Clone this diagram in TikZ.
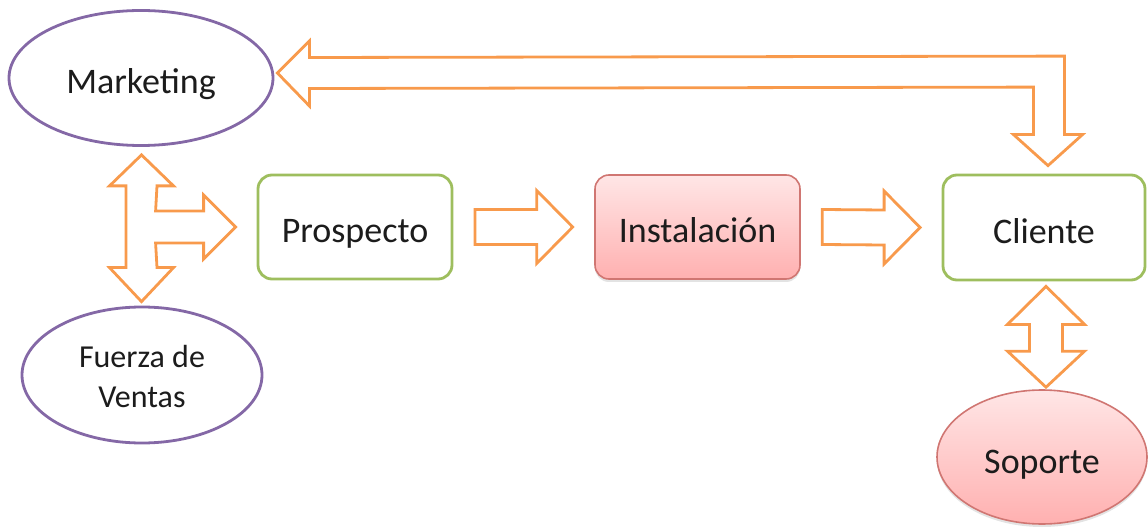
\documentclass[tikz,border=0pt]{standalone}
\usepackage{fontspec}
\setmainfont{Carlito}
\usetikzlibrary{shapes.geometric,calc,shadows}

\definecolor{arroworange}{RGB}{248,154,76}
\definecolor{ovalpurple}{RGB}{132,104,166}
\definecolor{boxgreen}{RGB}{158,190,94}
\definecolor{pinkedge}{RGB}{208,118,114}
\definecolor{pinktop}{RGB}{255,230,230}
\definecolor{pinkbot}{RGB}{255,176,176}
\definecolor{ink}{RGB}{28,28,28}

% horizontal block arrow between two nodes (tail after #1, tip before #2)
\newcommand{\rightblock}[2]{%
  \coordinate (#1-tail) at ($(#1.east)+(21.5,0)$);
  \coordinate (#1-tip)  at ($(#2.west)+(-21.5,0)$);
  \draw[blockarrow] ($(#1-tail)+(0,-17.5)$) -- ($(#1-tip)+(-36,-17.5)$)
    -- ($(#1-tip)+(-36,-36.5)$) -- (#1-tip) -- ($(#1-tip)+(-36,36.5)$)
    -- ($(#1-tip)+(-36,17.5)$) -- ($(#1-tail)+(0,17.5)$) -- cycle;}

\begin{document}
\begin{tikzpicture}[x=1pt,y=-1pt,
  every node/.style={text=ink},
  label36/.style={font=\fontsize{36}{43}\selectfont, text height=36pt, text depth=4pt},
  oval/.style={ellipse, draw=ovalpurple, line width=2.8pt, fill=white, inner sep=0pt},
  stage/.style={rectangle, rounded corners=14pt, draw=boxgreen, line width=2.8pt, fill=white, inner sep=0pt, label36},
  pinkshape/.style={draw=pinkedge, line width=1.6pt, top color=pinktop, bottom color=pinkbot,
    drop shadow={shadow xshift=0pt, shadow yshift=-3pt, opacity=0.22}, inner sep=0pt, label36},
  blockarrow/.style={draw=arroworange, line width=2.8pt, fill=white, line join=miter},
]
\useasboundingbox (0,0) rectangle (1148,529);

% nodes
\node[oval, label36, minimum width=264, minimum height=135] (mkt) at (141,78) {Marketing};
\node[oval, minimum width=240, minimum height=136] (fza) at (142,375) {};
\node[align=center, font=\fontsize{32}{37}\selectfont] (fzatext) at ($(fza.center)+(0,2)$) {Fuerza de\\[3pt]Ventas};
\node[stage, minimum width=194, minimum height=104] (pros) at (355,227) {Prospecto};
\node[pinkshape, rectangle, rounded corners=14pt, minimum width=205, minimum height=104] (inst) at (697.5,227) {Instalación};
\node[stage, minimum width=202, minimum height=105] (cli) at (1044,227.5) {Cliente};
\node[pinkshape, ellipse, minimum width=210, minimum height=134] (sop) at (1042,457) {Soporte};

% three-way arrow: Marketing / Fuerza de Ventas / Prospecto
\coordinate (tmT) at ($(mkt.south)+(0.5,8)$);
\coordinate (tmB) at ($(fza.north)+(-0.5,-4)$);
\coordinate (tmR) at ($(pros.west)+(-21,0)$);
\draw[blockarrow] (tmT) -- ($(tmT)+(32,31)$) -- ($(tmT)+(15.5,31)$)
  -- ($(tmR)+(-80,-16)$) -- ($(tmR)+(-32,-16)$) -- ($(tmR)+(-32,-32)$) -- (tmR)
  -- ($(tmR)+(-32,32)$) -- ($(tmR)+(-32,16)$) -- ($(tmR)+(-80,16)$)
  -- ($(tmB)+(15.5,-34)$) -- ($(tmB)+(32,-34)$) -- (tmB)
  -- ($(tmB)+(-32,-34)$) -- ($(tmB)+(-15.5,-34)$)
  -- ($(tmT)+(-15.5,31)$) -- ($(tmT)+(-32,31)$) -- cycle;

% flow arrows
\rightblock{pros}{inst}
\rightblock{inst}{cli}

% two-way arrow: Cliente / Soporte
\coordinate (csT) at ($(cli.south)+(2,5)$);
\coordinate (csB) at ($(sop.north)+(4,-2)$);
\draw[blockarrow] (csT) -- ($(csT)+(38.5,38)$) -- ($(csT)+(16.5,38)$)
  -- ($(csB)+(16.5,-36)$) -- ($(csB)+(38.5,-36)$) -- (csB)
  -- ($(csB)+(-38.5,-36)$) -- ($(csB)+(-16.5,-36)$)
  -- ($(csT)+(-16.5,38)$) -- ($(csT)+(-38.5,38)$) -- cycle;

% bent two-headed arrow: Cliente / Marketing
\coordinate (bmL) at ($(mkt.east)+(3,-5)$);
\coordinate (bmD) at ($(cli.north)+(4,-8)$);
\draw[blockarrow] (bmL) -- ($(bmL)+(32,-32)$) -- ($(bmL)+(32,-15.5)$)
  -- ($(bmD)+(16.5,-109.5)$) -- ($(bmD)+(16.5,-31)$) -- ($(bmD)+(34.5,-31)$) -- (bmD)
  -- ($(bmD)+(-34.5,-31)$) -- ($(bmD)+(-14.5,-31)$) -- ($(bmD)+(-14.5,-78.5)$)
  -- ($(bmL)+(32,15.5)$) -- ($(bmL)+(32,33)$) -- cycle;
\end{tikzpicture}
\end{document}
